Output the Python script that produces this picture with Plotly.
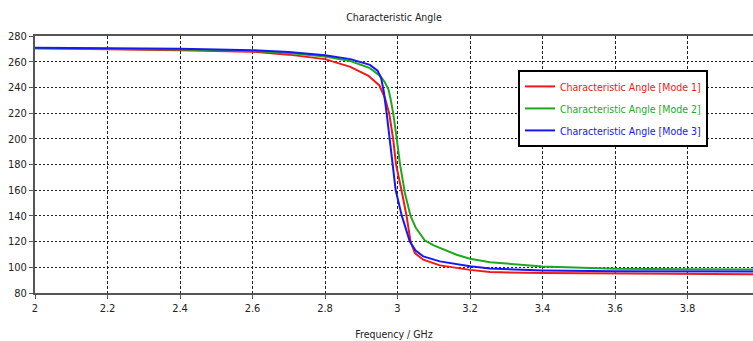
import plotly.graph_objects as go

# ---- data ----
freq_mode1 = [2.0, 2.2, 2.4, 2.6, 2.7, 2.8, 2.87, 2.92, 2.95, 2.965, 2.977, 2.988, 2.996,
              3.011, 3.025, 3.036, 3.048, 3.071, 3.117, 3.2, 3.255, 3.4, 3.6, 3.8, 4.0]
angle_mode1 = [270.5, 269.8, 269.0, 267.8, 265.5, 262.0, 256.0, 249.0, 241.5, 232.0, 220.0, 200.0, 180.0,
               160.0, 140.0, 120.0, 111.0, 105.9, 101.5, 98.0, 96.3, 95.5, 95.0, 94.7, 94.5]

freq_mode2 = [2.0, 2.2, 2.4, 2.6, 2.7, 2.8, 2.87, 2.924, 2.952, 2.965, 2.975, 2.981, 2.988, 2.998,
              3.007, 3.021, 3.036, 3.05, 3.075, 3.1, 3.117, 3.163, 3.2, 3.255, 3.4, 3.6, 3.8, 4.0]
angle_mode2 = [270.5, 270.0, 269.5, 268.3, 266.8, 264.0, 260.5, 255.0, 249.0, 244.0, 238.5, 231.0, 220.0, 200.0,
               180.0, 157.0, 140.0, 131.0, 121.0, 117.0, 115.0, 109.8, 106.7, 103.9, 100.7, 98.8, 98.5, 98.3]

freq_mode3 = [2.0, 2.2, 2.4, 2.6, 2.7, 2.8, 2.87, 2.924, 2.945, 2.955, 2.962, 2.970, 2.979, 2.986,
              2.995, 3.012, 3.034, 3.05, 3.071, 3.117, 3.2, 3.255, 3.4, 3.6, 3.8, 4.0]
angle_mode3 = [270.8, 270.5, 270.0, 269.0, 267.5, 265.0, 262.0, 257.5, 253.0, 247.0, 237.0, 220.0, 200.0, 180.0,
               160.0, 140.0, 120.0, 113.0, 108.5, 104.6, 100.8, 99.0, 97.6, 96.9, 96.7, 96.7]

series_names = ["Characteristic Angle [Mode 1]",
                "Characteristic Angle [Mode 2]",
                "Characteristic Angle [Mode 3]"]
series_colors = ["#f01818", "#1fa81f", "#1818f0"]

x_ticks = [2.0, 2.2, 2.4, 2.6, 2.8, 3.0, 3.2, 3.4, 3.6, 3.8]
x_ticktext = ["2", "2.2", "2.4", "2.6", "2.8", "3", "3.2", "3.4", "3.6", "3.8"]
y_ticks = [80, 100, 120, 140, 160, 180, 200, 220, 240, 260, 280]

FONT = "DejaVu Sans Condensed, Liberation Sans, sans-serif"

fig = go.Figure()
for i, (fx, fy) in enumerate([(freq_mode1, angle_mode1),
                              (freq_mode2, angle_mode2),
                              (freq_mode3, angle_mode3)]):
    fig.add_trace(go.Scatter(
        x=fx, y=fy, mode="lines",
        line=dict(color=series_colors[i], width=2),
        name=f"<span style='color:{series_colors[i]}'>{series_names[i]}</span>",
        legendgroup=f"g{i}",
    ))

fig.update_layout(
    width=753, height=341,
    margin=dict(l=35, r=0, t=36, b=48),
    paper_bgcolor="white", plot_bgcolor="white",
    font=dict(family=FONT, size=11, color="#222"),
    title=dict(text="Characteristic Angle", x=0.5, xref="paper", xanchor="center",
               y=1 - 17 / 341, yref="container", yanchor="middle",
               font=dict(family=FONT, size=10.5, color="#222")),
    showlegend=True,
    legend=dict(x=0.6727, y=0.868, xanchor="left", yanchor="top",
                bgcolor="white", bordercolor="black", borderwidth=2,
                font=dict(family=FONT, size=10.5),
                traceorder="grouped", tracegroupgap=3),
)

fig.update_xaxes(
    range=[2, 2 + 718 / 362.5], tickvals=x_ticks, ticktext=x_ticktext,
    showgrid=True, gridcolor="#222", gridwidth=1, griddash="3px,2px",
    showline=True, linecolor="#555", linewidth=2, mirror=True,
    ticks="outside", ticklen=4, tickcolor="#555", tickwidth=1,
    tickfont=dict(family=FONT, size=11, color="#222"),
    zeroline=False, automargin=False,
    title=dict(text="Frequency / GHz", font=dict(family=FONT, size=10.5, color="#222"), standoff=16),
)
fig.update_yaxes(
    range=[80, 280], tickvals=y_ticks,
    showgrid=True, gridcolor="#222", gridwidth=1, griddash="2px,2px",
    showline=True, linecolor="#555", linewidth=2,
    ticks="outside", ticklen=4, tickcolor="#555", tickwidth=1,
    tickfont=dict(family=FONT, size=11, color="#222"),
    zeroline=False, automargin=False,
)

fig.write_html("out.html", config={"displayModeBar": False},
               post_script="document.body.style.margin='0';document.body.style.padding='0';")
